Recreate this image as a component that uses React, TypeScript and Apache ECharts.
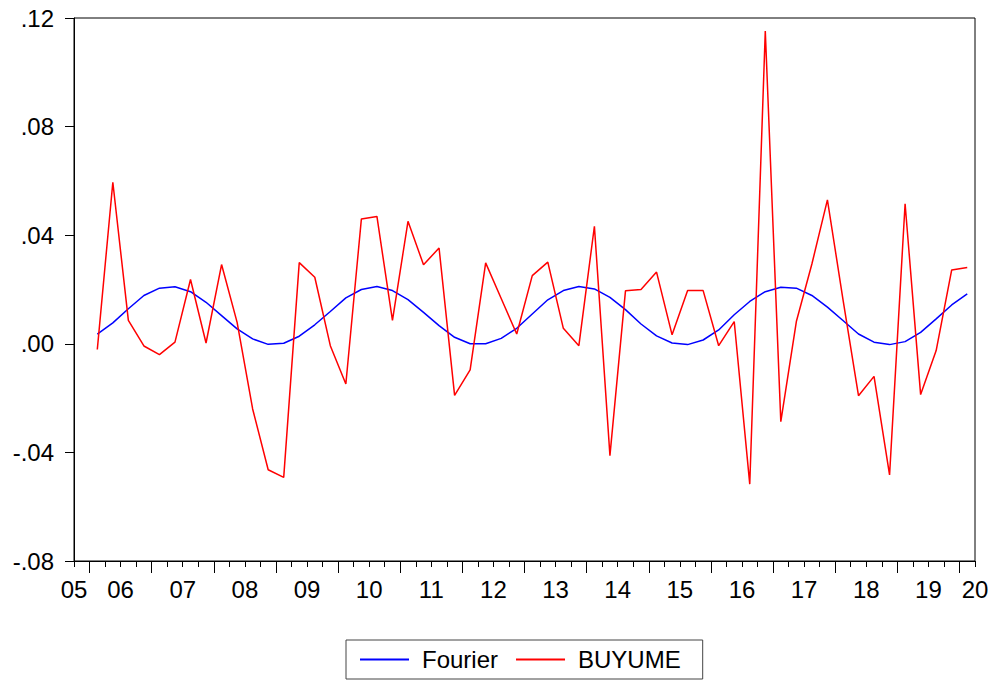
import React, { useEffect, useRef } from "react";
import * as echarts from "echarts";

// Quarterly periods from 2005Q4 to 2020Q1 (first observation missing)
const quarters: string[] = [
  "2005Q4",
  "2006Q1","2006Q2","2006Q3","2006Q4",
  "2007Q1","2007Q2","2007Q3","2007Q4",
  "2008Q1","2008Q2","2008Q3","2008Q4",
  "2009Q1","2009Q2","2009Q3","2009Q4",
  "2010Q1","2010Q2","2010Q3","2010Q4",
  "2011Q1","2011Q2","2011Q3","2011Q4",
  "2012Q1","2012Q2","2012Q3","2012Q4",
  "2013Q1","2013Q2","2013Q3","2013Q4",
  "2014Q1","2014Q2","2014Q3","2014Q4",
  "2015Q1","2015Q2","2015Q3","2015Q4",
  "2016Q1","2016Q2","2016Q3","2016Q4",
  "2017Q1","2017Q2","2017Q3","2017Q4",
  "2018Q1","2018Q2","2018Q3","2018Q4",
  "2019Q1","2019Q2","2019Q3","2019Q4",
  "2020Q1",
];

const fourier: (number | null)[] = [
  null,
  0.0036, 0.0077, 0.0129, 0.0178, 0.0205, 0.0210, 0.0192, 0.0153,
  0.0104, 0.0055, 0.0018, -0.0002, 0.0002, 0.0028, 0.0070, 0.0119,
  0.0169, 0.0200, 0.0211, 0.0196, 0.0163, 0.0116, 0.0067, 0.0024,
  0.0000, 0.0000, 0.0020, 0.0057, 0.0110, 0.0162, 0.0196, 0.0211,
  0.0202, 0.0171, 0.0126, 0.0073, 0.0029, 0.0003, -0.0003, 0.0014,
  0.0051, 0.0107, 0.0156, 0.0192, 0.0208, 0.0205, 0.0178, 0.0135,
  0.0086, 0.0036, 0.0006, -0.0003, 0.0008, 0.0042, 0.0092, 0.0143,
  0.0184,
];

const buyume: (number | null)[] = [
  null,
  -0.0021, 0.0595, 0.0086, -0.0008, -0.0040, 0.0006, 0.0237, 0.0003,
  0.0292, 0.0079, -0.0240, -0.0464, -0.0492, 0.0299, 0.0245, -0.0007,
  -0.0148, 0.0460, 0.0469, 0.0086, 0.0451, 0.0291, 0.0353, -0.0190,
  -0.0096, 0.0298, 0.0167, 0.0036, 0.0251, 0.0301, 0.0057, -0.0007,
  0.0433, -0.0412, 0.0195, 0.0200, 0.0264, 0.0033, 0.0196, 0.0196,
  -0.0007, 0.0082, -0.0517, 0.1152, -0.0287, 0.0082, 0.0294, 0.0530,
  0.0164, -0.0191, -0.0120, -0.0483, 0.0516, -0.0187, -0.0025, 0.0272,
  0.0281,
];

const yearLabels: string[] = [
  "05","06","07","08","09","10","11","12","13","14","15","16","17","18","19","20",
];

const FONT = "'Liberation Sans', Arial, sans-serif";

export default function App() {
  const ref = useRef<HTMLDivElement>(null);

  useEffect(() => {
    document.body.style.margin = "0";
    if (!ref.current) return;
    const chart = echarts.init(ref.current, undefined, { renderer: "svg" });

    // boundary positions between quarters (59 boundaries for 58 quarters)
    const nB = quarters.length + 1;
    const boundaries: string[] = [];
    for (let k = 0; k < nB; k++) {
      let lab = "";
      if (k === 0) lab = yearLabels[0];
      else if (k === nB - 1) lab = yearLabels[yearLabels.length - 1];
      else if ((k - 3) % 4 === 0) lab = yearLabels[1 + (k - 3) / 4] || "";
      boundaries.push(lab);
    }

    const option: any = {
      animation: false,
      backgroundColor: "#fff",
      textStyle: { fontFamily: FONT },
      grid: {
        left: 74,
        right: 21,
        top: 18,
        bottom: 123,
        show: true,
        borderColor: "#000",
        borderWidth: 1,
        backgroundColor: "#fff",
      },
      legend: {
        data: ["Fourier", "BUYUME"],
        left: 346,
        top: 640,
        icon: "rect",
        itemWidth: 49,
        itemHeight: 2,
        itemGap: 18,
        padding: [6, 22, 6, 14],
        borderColor: "#444",
        borderWidth: 1,
        textStyle: {
          fontFamily: FONT,
          fontSize: 24,
          color: "#000",
          lineHeight: 27,
          padding: [0, 0, 0, 8],
        },
      },
      xAxis: [
        {
          type: "category",
          data: quarters,
          boundaryGap: true,
          position: "bottom",
          axisLine: { show: true, onZero: false, lineStyle: { color: "#000", width: 1 } },
          axisTick: { show: false },
          axisLabel: { show: false },
          splitLine: { show: false },
        },
        {
          type: "category",
          data: boundaries,
          boundaryGap: false,
          position: "bottom",
          axisLine: { show: false, onZero: false },
          axisTick: { show: true, interval: 0, length: 6, lineStyle: { color: "#000" } },
          axisLabel: { show: false },
          splitLine: { show: false },
        },
        {
          type: "category",
          data: boundaries,
          boundaryGap: false,
          position: "bottom",
          axisLine: { show: false, onZero: false },
          axisTick: {
            show: true,
            length: 12,
            interval: (k: number) => (k - 1) % 4 === 0,
            lineStyle: { color: "#000" },
          },
          axisLabel: {
            show: true,
            interval: (k: number) => k === 0 || k === nB - 1 || (k - 3) % 4 === 0,
            margin: 16,
            fontSize: 24,
            fontFamily: FONT,
            color: "#000",
          },
          splitLine: { show: false },
        },
      ],
      yAxis: {
        type: "value",
        min: -0.08,
        max: 0.12,
        interval: 0.04,
        axisLine: { show: true, lineStyle: { color: "#000" } },
        axisTick: { show: true, length: 9, lineStyle: { color: "#000" } },
        axisLabel: {
          margin: 20,
          fontSize: 24,
          fontFamily: FONT,
          color: "#000",
          formatter: (v: number) => {
            const s = (Math.round(v * 100) / 100).toFixed(2);
            return s.replace("0.", ".");
          },
        },
        splitLine: { show: false },
      },
      series: [
        {
          name: "Fourier",
          type: "line",
          xAxisIndex: 0,
          data: fourier,
          symbol: "none",
          lineStyle: { color: "#0000ff", width: 1.5 },
          itemStyle: { color: "#0000ff" },
        },
        {
          name: "BUYUME",
          type: "line",
          xAxisIndex: 0,
          data: buyume,
          symbol: "none",
          lineStyle: { color: "#ff0000", width: 1.5 },
          itemStyle: { color: "#ff0000" },
        },
      ],
    };

    chart.setOption(option);
    return () => chart.dispose();
  }, []);

  return <div ref={ref} style={{ width: 996, height: 684 }} />;
}
